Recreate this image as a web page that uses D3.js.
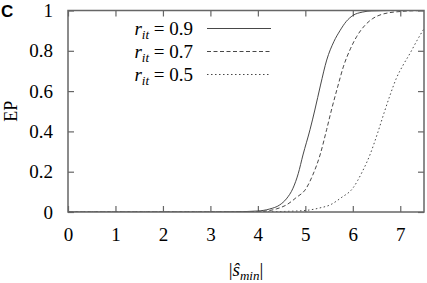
<!DOCTYPE html>
<html>
<head>
<meta charset="utf-8">
<script src="https://cdn.jsdelivr.net/npm/d3@7"></script>
<style>
  html, body { margin: 0; padding: 0; background: #fff; }
  svg { display: block; }
</style>
</head>
<body>
<div id="chart"></div>
<script>
// series: [|s_min|, EP]
const xTicks = [0, 1, 2, 3, 4, 5, 6, 7]
const yTicks = [0, 0.2, 0.4, 0.6, 0.8, 1]
const yTickLabels = ["0", "0.2", "0.4", "0.6", "0.8", "1"]

const r09 = [[0, 0], [3, 0], [3.5, 0.001], [4.0, 0.005], [4.25, 0.015], [4.46, 0.035], [4.6, 0.065],
  [4.74, 0.118], [4.85, 0.19], [4.95, 0.283], [5.1, 0.41], [5.2, 0.506], [5.32, 0.63], [5.45, 0.754],
  [5.6, 0.845], [5.73, 0.9], [5.86, 0.945], [6.0, 0.975], [6.2, 0.992], [6.4, 0.998], [7.0, 1], [7.5, 1]]
const r07 = [[0, 0], [3.5, 0], [3.9, 0.001], [4.18, 0.005], [4.4, 0.016], [4.6, 0.035], [4.8, 0.07],
  [5.02, 0.118], [5.15, 0.18], [5.31, 0.283], [5.45, 0.41], [5.55, 0.506], [5.68, 0.62], [5.8, 0.72],
  [5.95, 0.81], [6.08, 0.87], [6.25, 0.925], [6.42, 0.96], [6.6, 0.98], [7.0, 0.995], [7.5, 1]]
const r05 = [[0, 0], [3.8, 0], [4.2, 0.001], [4.6, 0.003], [5.02, 0.008], [5.3, 0.02], [5.52, 0.035],
  [5.75, 0.07], [6.0, 0.118], [6.2, 0.2], [6.36, 0.283], [6.52, 0.39], [6.67, 0.5], [6.8, 0.59],
  [6.92, 0.665], [7.05, 0.725], [7.2, 0.785], [7.35, 0.85], [7.5, 0.91]]

const series = [
  { label: "0.9", data: r09, dash: null },
  { label: "0.7", data: r07, dash: "4,2.5" },
  { label: "0.5", data: r05, dash: "1.5,2.5" },
]

const width = 427, height = 283
const plot = { left: 68, right: 424, top: 10.5, bottom: 212 }
const axisColor = "#666"
const serif = "Liberation Serif"

const svg = d3.select("#chart").append("svg")
  .attr("width", width)
  .attr("height", height)

const x = d3.scaleLinear().domain([0, 7.5]).range([plot.left, plot.right])
const y = d3.scaleLinear().domain([0, 1]).range([plot.bottom, plot.top])

// panel letter
svg.append("text")
  .attr("x", 1).attr("y", 17)
  .attr("font-family", "Liberation Sans")
  .attr("font-weight", "bold")
  .attr("font-size", 17)
  .text("C")

// axes, ticks pointing inwards
const styleAxis = (g) => {
  g.attr("font-family", serif).attr("font-size", 19)
  g.select(".domain").remove()
  g.selectAll(".tick line").attr("stroke", axisColor).attr("stroke-width", 1.2)
  g.selectAll(".tick text").attr("fill", "#000")
}

svg.append("g")
  .attr("transform", `translate(0,${plot.bottom})`)
  .call(d3.axisBottom(x).tickValues(xTicks).tickSize(-6).tickPadding(16).tickFormat(d3.format("d")))
  .call(styleAxis)

svg.append("g")
  .attr("transform", `translate(0,${plot.top})`)
  .call(d3.axisTop(x).tickValues(xTicks).tickSize(-6).tickFormat(""))
  .call(styleAxis)

svg.append("g")
  .attr("transform", `translate(${plot.left},0)`)
  .call(d3.axisLeft(y).tickValues(yTicks).tickSize(-6).tickPadding(15).tickFormat((d, i) => yTickLabels[i]))
  .call(styleAxis)

svg.append("g")
  .attr("transform", `translate(${plot.right},0)`)
  .call(d3.axisRight(y).tickValues(yTicks).tickSize(-6).tickFormat(""))
  .call(styleAxis)

// clip + curves
svg.append("clipPath").attr("id", "clip")
  .append("rect")
  .attr("x", plot.left).attr("y", plot.top)
  .attr("width", plot.right - plot.left).attr("height", plot.bottom - plot.top)

const line = d3.line()
  .x((d) => x(d[0]))
  .y((d) => y(d[1]))
  .curve(d3.curveMonotoneX)

svg.append("g").attr("clip-path", "url(#clip)")
  .selectAll("path")
  .data(series)
  .join("path")
  .attr("d", (d) => line(d.data))
  .attr("fill", "none")
  .attr("stroke", "#333")
  .attr("stroke-width", 0.9)
  .attr("stroke-dasharray", (d) => d.dash)

// frame
svg.append("rect")
  .attr("x", plot.left).attr("y", plot.top)
  .attr("width", plot.right - plot.left).attr("height", plot.bottom - plot.top)
  .attr("fill", "none")
  .attr("stroke", axisColor)
  .attr("stroke-width", 1.5)

// legend
const legend = svg.append("g")
series.forEach((s, i) => {
  const ly = 28.5 + i * 23
  const t = legend.append("text")
    .attr("x", 193).attr("y", ly + 6)
    .attr("text-anchor", "end")
    .attr("font-family", serif)
    .attr("font-size", 19)
  t.append("tspan").attr("font-style", "italic").text("r")
  t.append("tspan").attr("font-style", "italic").attr("font-size", 13).attr("dy", 4).text("it")
  t.append("tspan").attr("dy", -4).text(" = " + s.label)
  legend.append("line")
    .attr("x1", 207).attr("x2", 271)
    .attr("y1", ly).attr("y2", ly)
    .attr("stroke", "#333")
    .attr("stroke-width", 0.9)
    .attr("stroke-dasharray", s.dash)
})

// axis titles
const xl = svg.append("text")
  .attr("x", (plot.left + plot.right) / 2).attr("y", 276)
  .attr("text-anchor", "middle")
  .attr("font-family", serif)
  .attr("font-size", 19)
xl.append("tspan").text("|")
xl.append("tspan").attr("font-style", "italic").text("ŝ")
xl.append("tspan").attr("font-style", "italic").attr("font-size", 13).attr("dy", 4).text("min")
xl.append("tspan").attr("dy", -4).text("|")

svg.append("text")
  .attr("transform", `translate(16.5,${(plot.top + plot.bottom) / 2}) rotate(-90)`)
  .attr("text-anchor", "middle")
  .attr("font-family", serif)
  .attr("font-size", 18)
  .text("EP")
</script>
</body>
</html>
